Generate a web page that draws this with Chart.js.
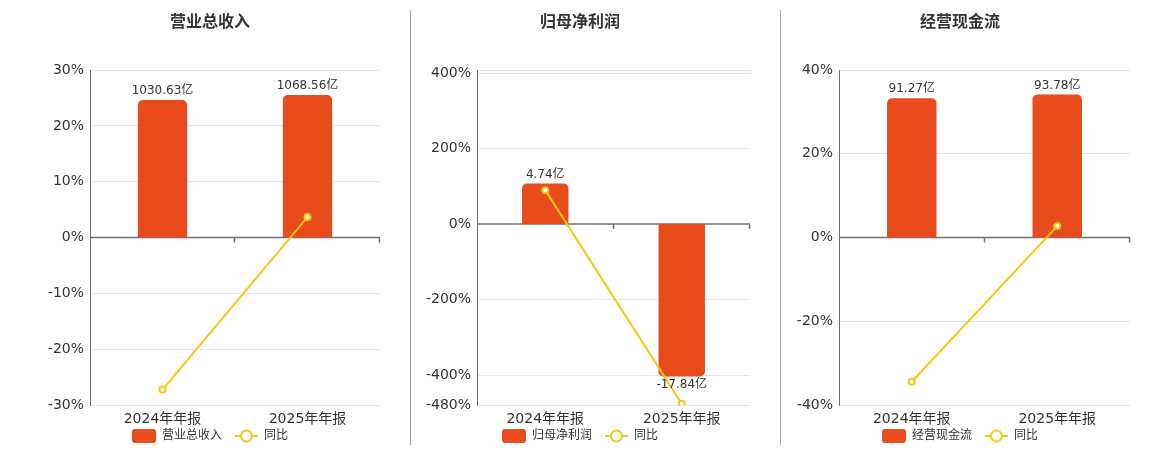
<!DOCTYPE html>
<html>
<head>
<meta charset="utf-8">
<script src="https://cdn.jsdelivr.net/npm/chart.js@4.4.1/dist/chart.umd.min.js"></script>
<style>
  html, body { margin: 0; padding: 0; background: #fff; }
  #wrap { position: relative; width: 1160px; height: 450px; overflow: hidden; }
  .panel { position: absolute; top: 0; height: 450px; }
  .sep { position: absolute; top: 10px; width: 1px; height: 435px; background: #aaa; }
</style>
</head>
<body>
<div id="wrap">
  <div class="panel" style="left:0;width:410px"><canvas id="c1"></canvas></div>
  <div class="sep" style="left:410px"></div>
  <div class="panel" style="left:411px;width:369px"><canvas id="c2"></canvas></div>
  <div class="sep" style="left:780px"></div>
  <div class="panel" style="left:781px;width:379px"><canvas id="c3"></canvas></div>
</div>
<script>
// values
const categories = ['2024年年报', '2025年年报'];

const revenueValues = [1030.63, 1068.56];   // 亿
const revenueYoy = [-27.2, 3.68];           // %
const profitValues = [4.74, -17.84];
const profitYoy = [89.7, -476.37];
const cashValues = [91.27, 93.78];
const cashYoy = [-34.4, 2.75];

const revenueTicks = [-30, -20, -10, 0, 10, 20, 30];
const profitTicks = [-480, -400, -200, 0, 200, 400];
const cashTicks = [-40, -20, 0, 20, 40];

const BAR_COLOR = '#E84C1D';
const LINE_COLOR = '#F2C811';
const AXIS_COLOR = '#6E7079';
const GRID_COLOR = '#E0E6F1';
const TEXT_COLOR = '#333';
const FONT = '"DejaVu Sans", "Noto Sans CJK SC", sans-serif';

Chart.defaults.font.family = FONT;
Chart.defaults.color = TEXT_COLOR;

// zero line with ticks at category boundaries
const zeroAxis = {
    id: 'zeroAxis',
    beforeDatasetsDraw(chart) {
        const ctx = chart.ctx;
        const area = chart.chartArea;
        const y0 = chart.scales.y.getPixelForValue(0);
        const n = chart.data.labels.length;
        ctx.save();
        ctx.strokeStyle = AXIS_COLOR;
        ctx.lineWidth = 1.5;
        ctx.beginPath();
        ctx.moveTo(area.left, y0);
        ctx.lineTo(area.right, y0);
        for (let i = 1; i <= n; i++) {
            const x = Math.round(area.left + i * (area.right - area.left) / n) - 0.5;
            ctx.moveTo(x, y0);
            ctx.lineTo(x, y0 + 5);
        }
        ctx.stroke();
        ctx.restore();
    }
};

// "xxx亿" labels on the bars
const barLabels = {
    id: 'barLabels',
    afterDatasetsDraw(chart) {
        const ctx = chart.ctx;
        const meta = chart.getDatasetMeta(0);
        const data = chart.data.datasets[0].data;
        ctx.save();
        ctx.font = '12px ' + FONT;
        ctx.fillStyle = TEXT_COLOR;
        ctx.textAlign = 'center';
        meta.data.forEach(function(bar, i) {
            const txt = data[i].toFixed(2) + '亿';
            if (data[i] >= 0) {
                ctx.textBaseline = 'bottom';
                ctx.fillText(txt, bar.x, bar.y - 3);
            } else {
                ctx.textBaseline = 'top';
                ctx.fillText(txt, bar.x, bar.y + 2);
            }
        });
        ctx.restore();
    }
};

// title on top and legend at the bottom
const titleLegend = {
    id: 'titleLegend',
    afterDraw(chart, args, opts) {
        const ctx = chart.ctx;
        const cx = opts.cx;
        ctx.save();
        ctx.fillStyle = TEXT_COLOR;
        ctx.textAlign = 'center';
        ctx.textBaseline = 'middle';
        ctx.font = 'bold 16px ' + FONT;
        ctx.fillText(opts.title, cx, 23);

        ctx.font = '12px ' + FONT;
        const w1 = ctx.measureText(opts.barName).width;
        const w2 = ctx.measureText('同比').width;
        const total = 24 + 6 + w1 + 13 + 23 + 6 + w2;
        let x = cx - total / 2;
        const y = 436;
        ctx.fillStyle = BAR_COLOR;
        ctx.beginPath();
        ctx.roundRect(x, y - 7, 24, 14, 3);
        ctx.fill();
        x += 30;
        ctx.fillStyle = TEXT_COLOR;
        ctx.textAlign = 'left';
        ctx.fillText(opts.barName, x, y);
        x += w1 + 13;
        ctx.strokeStyle = LINE_COLOR;
        ctx.lineWidth = 2;
        ctx.beginPath();
        ctx.moveTo(x, y);
        ctx.lineTo(x + 23, y);
        ctx.stroke();
        ctx.beginPath();
        ctx.arc(x + 11.5, y, 5.5, 0, Math.PI * 2);
        ctx.fillStyle = '#fff';
        ctx.fill();
        ctx.stroke();
        x += 29;
        ctx.fillStyle = TEXT_COLOR;
        ctx.fillText('同比', x, y);
        ctx.restore();
    }
};

function makeChart(id, title, barName, values, yoy, ticks, yMax, barMin, barMax, axisWidth, cx) {
    const ctx = document.getElementById(id).getContext('2d');
    return new Chart(ctx, {
        type: 'bar',
        data: {
            labels: categories,
            datasets: [{
                type: 'bar',
                label: barName,
                data: values,
                yAxisID: 'yb',
                backgroundColor: BAR_COLOR,
                borderRadius: 5,
                borderSkipped: 'start',
                barPercentage: 0.34,
                categoryPercentage: 1,
                order: 1
            }, {
                type: 'line',
                label: '同比',
                data: yoy,
                yAxisID: 'y',
                borderColor: LINE_COLOR,
                borderWidth: 2,
                pointRadius: 3,
                pointBackgroundColor: '#fff',
                pointBorderColor: LINE_COLOR,
                pointBorderWidth: 2,
                order: 0
            }]
        },
        options: {
            responsive: true,
            maintainAspectRatio: false,
            animation: false,
            layout: { padding: { top: 70, right: 30, bottom: 16, left: 0 } },
            plugins: {
                legend: { display: false },
                tooltip: { enabled: false },
                titleLegend: { cx: cx, title: title, barName: barName }
            },
            scales: {
                x: {
                    grid: { display: false, drawTicks: false },
                    border: { display: false },
                    ticks: { font: { size: 14 }, color: TEXT_COLOR, padding: 6 }
                },
                y: {
                    position: 'left',
                    min: ticks[0],
                    max: yMax,
                    afterBuildTicks: function(scale) {
                        const t = ticks.map(v => ({ value: v }));
                        if (yMax > ticks[ticks.length - 1]) t.push({ value: yMax });
                        scale.ticks = t;
                    },
                    afterFit: function(scale) { scale.width = axisWidth; },
                    grid: {
                        drawTicks: false,
                        color: c => (c.tick && c.tick.value === 0) ? 'rgba(0,0,0,0)' : GRID_COLOR
                    },
                    border: { display: true, color: AXIS_COLOR, width: 1 },
                    ticks: {
                        font: { size: 14 },
                        color: TEXT_COLOR,
                        padding: 6,
                        callback: v => ticks.includes(v) ? v + '%' : ''
                    }
                },
                yb: {
                    display: false,
                    min: barMin,
                    max: barMax
                }
            }
        },
        plugins: [zeroAxis, barLabels, titleLegend]
    });
}

makeChart('c1', '营业总收入', '营业总收入', revenueValues, revenueYoy,
          revenueTicks, 30, -1256, 1256, 90, 210);
makeChart('c2', '归母净利润', '归母净利润', profitValues, profitYoy,
          profitTicks, 408, -21.2, 18.03, 66, 169);
makeChart('c3', '经营现金流', '经营现金流', cashValues, cashYoy,
          cashTicks, 40, -109.8, 109.8, 58, 179);
</script>
</body>
</html>
